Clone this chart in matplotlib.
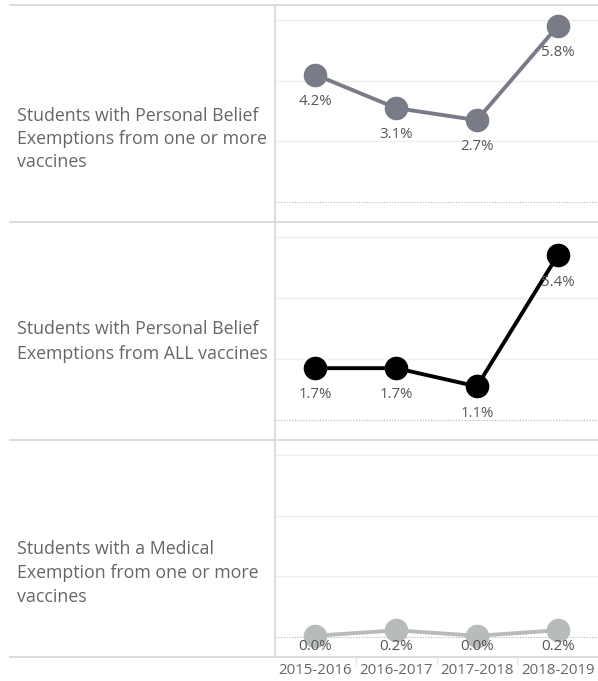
import matplotlib
matplotlib.use("Agg")
import matplotlib.pyplot as plt
from matplotlib.lines import Line2D

plt.rcParams['font.family'] = ['Open Sans', 'DejaVu Sans']

# data
years = ["2015-2016", "2016-2017", "2017-2018", "2018-2019"]
row_labels = [
    "Students with Personal Belief\nExemptions from one or more\nvaccines",
    "Students with Personal Belief\nExemptions from ALL vaccines",
    "Students with a Medical\nExemption from one or more\nvaccines",
]
pbe_any = [4.2, 3.1, 2.7, 5.8]
pbe_all = [1.7, 1.7, 1.1, 5.4]
medical = [0.04, 0.22, 0.04, 0.22]
series = [pbe_any, pbe_all, medical]
colors = ["#797c87", "#000000", "#b8bbbb"]

W, H = 598, 681
fig = plt.figure(figsize=(W / 100, H / 100), dpi=100)

def fx(px):
    return px / W

def fy(px):
    return 1 - px / H

# panel pixel bounds (top, bottom)
rows = [(5, 222), (222, 440), (440, 657)]
left, right = 275, 598
text_y = [[116, 139, 162], [329, 354], [549, 573, 597]]

for i, (top, bot) in enumerate(rows):
    ax = fig.add_axes([fx(left), fy(bot), fx(right - left), (bot - top) / H])
    ax.set_xlim(-0.5, 3.5)
    ax.set_ylim(-0.66, 6.5)
    for g in [2, 4, 6]:
        ax.axhline(g, color="#efefef", lw=1, zorder=1)
    ax.axhline(0, color="#b5b5b5", lw=0.8, ls=(0, (1, 1.5)), zorder=1)
    vals = series[i]
    ax.plot(range(4), vals, color=colors[i], lw=2.8, zorder=3,
            marker="o", markersize=17, markeredgewidth=0, solid_capstyle="round")
    for k, v in enumerate(vals):
        ly = max(v - 0.88, -0.33)
        ax.text(k, ly, "%.1f%%" % v, ha="center", va="center", fontsize=10.8,
                color="#555555", zorder=4)
    ax.axis("off")
    for line, ty in zip(row_labels[i].split("\n"), text_y[i]):
        fig.text(fx(17), fy(ty), line, ha="left", va="center", fontsize=12.8,
                 color="#666666")

# frame lines
line_col = "#d6d6d6"
for y in [5, 222, 440, 657]:
    fig.add_artist(Line2D([fx(10), fx(598)], [fy(y), fy(y)], color=line_col, lw=1.2))
fig.add_artist(Line2D([fx(275), fx(275)], [fy(5), fy(657)], color=line_col, lw=1.2))

# x axis labels and band separators
band = (right - left) / 4
for k, yr in enumerate(years):
    cx = left + (k + 0.5) * band
    fig.text(fx(cx), fy(671), yr, ha="center", va="center", fontsize=10.8, color="#666666")
    if k > 0:
        bx = left + k * band
        fig.add_artist(Line2D([fx(bx), fx(bx)], [fy(657), fy(664)], color="#e6e6e6", lw=1))

fig.savefig("out.png", dpi=100)
